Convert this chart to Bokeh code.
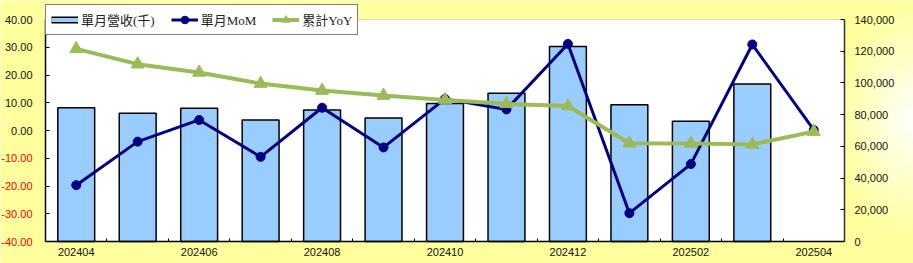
import numpy as np
from bokeh.plotting import figure
from bokeh.models import (Range1d, LinearAxis, FixedTicker, NumeralTickFormatter,
                          ColumnDataSource, Legend, LegendItem, BoxAnnotation)
from bokeh.core.properties import value
from bokeh.embed import file_html
from bokeh.resources import INLINE

months = ["202404", "202405", "202406", "202407", "202408", "202409", "202410",
          "202411", "202412", "202501", "202502", "202503", "202504"]
revenue = [84400, 80800, 84000, 76600, 82900, 77900, 87100,
           93500, 122900, 86300, 75800, 99300]
mom = [-19.7, -4.0, 3.8, -9.5, 8.2, -6.1, 11.4, 7.6, 31.2, -29.8, -12.1, 31.0, 0.2]
yoy = [29.4, 23.9, 20.9, 16.9, 14.4, 12.6, 11.0, 9.6, 8.8, -4.6, -4.7, -5.0, -0.4]
left_ticks = [-40, -30, -20, -10, 0, 10, 20, 30, 40]
right_ticks = [0, 20000, 40000, 60000, 80000, 100000, 120000, 140000]
series_names = ["單月營收(千)", "單月MoM", "累計YoY"]

# ---- layout constants (pixels); the frame covers the whole canvas ----
W, H = 913, 263
LEFT, RIGHT, TOP, BOTTOM = 45, 69, 19, 22   # plot-area margins
BG = "#FFFF9E"
TICK_FONT = "Liberation Sans"

n = len(months)
lo, hi = left_ticks[0], left_ticks[-1]
ppx = (W - LEFT - RIGHT) / n
ppu = (H - TOP - BOTTOM) / (hi - lo)
x_start, x_end = -LEFT / ppx, n + RIGHT / ppx
y_start, y_end = lo - BOTTOM / ppu, hi + TOP / ppu
k = right_ticks[-1] / (hi - lo)
rev_start, rev_end = (y_start - lo) * k, (y_end - lo) * k

xs = [i + 0.5 for i in range(n)]
bar_src = ColumnDataSource(dict(x=xs[:len(revenue)], top=revenue))
line_src = ColumnDataSource(dict(x=xs, mom=mom, yoy=yoy))

p = figure(width=W, height=H, output_backend="svg", toolbar_location=None,
           x_range=Range1d(x_start, x_end), y_range=Range1d(y_start, y_end),
           min_border_left=0, min_border_right=0, min_border_top=0, min_border_bottom=0)
p.extra_y_ranges = {"rev": Range1d(rev_start, rev_end)}
p.border_fill_color = BG
p.background_fill_color = BG
p.outline_line_color = None
p.xgrid.visible = False
p.ygrid.visible = False

# soft light glow of the page background near the right edge (decoration)
GX0 = 780
gw = W - GX0
gx = np.arange(gw)[None, :] + GX0 + 0.5
gy = (H - np.arange(H)[:, None]) - 0.5            # row 0 is the bottom of the canvas
t = np.clip(np.sqrt(((gx - 910) / 75.0) ** 2 + ((gy - 120) / 120.0) ** 2), 0, 1) ** 0.9
blue = np.round(255 * (1 - t) + 0x9E * t).astype(np.uint32)
img = (255 << 24) | (blue << 16) | (255 << 8) | 255
p.image_rgba(image=[img.astype(np.uint32)], x=x_start + GX0 / ppx, y=y_start,
             dw=gw / ppx, dh=y_end - y_start, level="image")

# white plot area with grey border
p.add_layout(BoxAnnotation(left=0, right=n, bottom=lo, top=hi, fill_color="white",
                           fill_alpha=1, line_color="#808080", line_width=1,
                           level="underlay"))

bars = p.vbar(x="x", top="top", bottom=0, width=0.6, source=bar_src, y_range_name="rev",
              fill_color="#99CCFF", line_color="black", line_width=1.5)
l_mom = p.line("x", "mom", source=line_src, line_color="#000080", line_width=3)
s_mom = p.scatter("x", "mom", source=line_src, marker="circle", size=9,
                  fill_color="#000080", line_color="#000080")
l_yoy = p.line("x", "yoy", source=line_src, line_color="#9BBB59", line_width=4)
s_yoy = p.scatter("x", "yoy", source=line_src, marker="triangle", size=13,
                  fill_color="#9BBB59", line_color="#9BBB59")

# x axis: labels every other month at centers, ticks at category boundaries
xa = p.xaxis[0]
xa.fixed_location = lo
xa.bounds = (0, n)
xa.ticker = FixedTicker(ticks=xs[::2], minor_ticks=list(range(1, n)))
xa.major_label_overrides = {xs[i]: months[i] for i in range(0, n, 2)}
xa.major_tick_in = 0
xa.major_tick_out = 0
xa.minor_tick_in = 3
xa.minor_tick_out = 0
xa.axis_line_width = 1.5
xa.axis_line_color = "black"
xa.major_label_text_font = TICK_FONT
xa.major_label_text_font_size = "11px"
xa.major_label_text_color = "#111111"
xa.major_label_standoff = 6

# left axis: line + inward ticks; labels drawn as text (negatives in red)
ya = p.yaxis[0]
ya.fixed_location = 0
ya.bounds = (lo, hi)
ya.ticker = FixedTicker(ticks=left_ticks)
ya.major_label_overrides = {t_: "" for t_ in left_ticks}
ya.major_label_standoff = 0
ya.major_tick_in = 4
ya.major_tick_out = 0
ya.minor_tick_in = 0
ya.minor_tick_out = 0
ya.axis_line_width = 1.5
ya.axis_line_color = "black"

lab_src = ColumnDataSource(dict(x=[0] * len(left_ticks), y=left_ticks,
                                t=["%.2f" % v for v in left_ticks],
                                c=["#FF0000" if v < 0 else "#111111" for v in left_ticks]))
p.text(x="x", y="y", text="t", source=lab_src, text_color="c", text_align="right",
       text_baseline="middle", x_offset=-13, text_font=value(TICK_FONT),
       text_font_size="11px")

ra = LinearAxis(y_range_name="rev", ticker=FixedTicker(ticks=right_ticks),
                formatter=NumeralTickFormatter(format="0,0"), bounds=(0, right_ticks[-1]),
                fixed_location=n)
ra.major_tick_in = 4
ra.major_tick_out = 0
ra.minor_tick_in = 0
ra.minor_tick_out = 0
ra.axis_line_width = 1.5
ra.axis_line_color = "#333333"
ra.major_label_text_font = TICK_FONT
ra.major_label_text_font_size = "11px"
ra.major_label_text_color = "#111111"
ra.major_label_standoff = 10
p.add_layout(ra, "right")

# legend glyph for the bar series: outlined thin rectangle
nan = float("nan")
dummy = ColumnDataSource(dict(x=[nan], y=[nan]))
leg_out = p.line("x", "y", source=dummy, line_color="black", line_width=7)
leg_in = p.line("x", "y", source=dummy, line_color="#99CCFF", line_width=4)

legend = Legend(items=[LegendItem(label=series_names[0], renderers=[leg_out, leg_in]),
                       LegendItem(label=series_names[1], renderers=[l_mom, s_mom]),
                       LegendItem(label=series_names[2], renderers=[l_yoy, s_yoy])],
                orientation="horizontal", location=(LEFT, H - 35),
                margin=0, padding=5,
                spacing=16, glyph_width=27, glyph_height=19, label_height=19,
                label_standoff=3, label_text_font="Liberation Serif, Noto Sans CJK TC",
                label_text_font_size="13px", label_text_color="#222222",
                border_line_color="black", border_line_width=1,
                background_fill_color="white", background_fill_alpha=1)
p.add_layout(legend, "center")

open("out.html", "w").write(file_html(p, INLINE))
